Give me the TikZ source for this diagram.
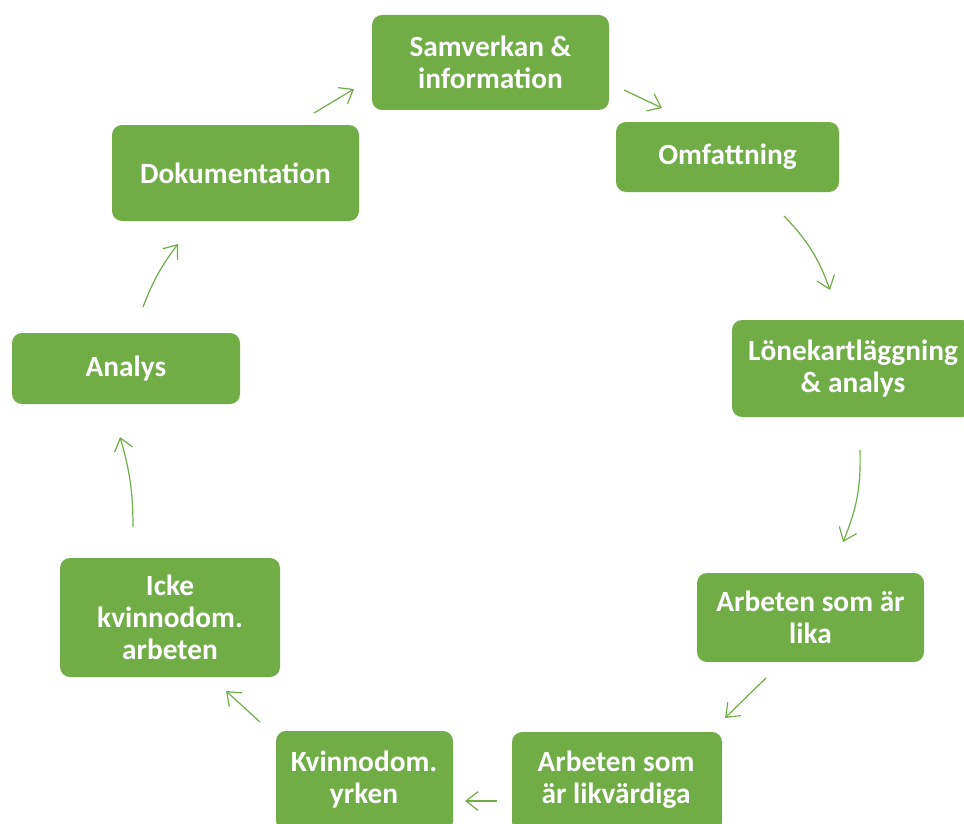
\documentclass[tikz,border=0pt]{standalone}
\usepackage{fontspec}
\setmainfont{Carlito}
\usetikzlibrary{arrows.meta}
\definecolor{grn}{HTML}{70AD47}
\tikzset{
  lbl/.style={text=white, font=\bfseries\fontsize{22}{24}\selectfont, align=center, inner sep=0pt},
  box/.style={lbl, fill=grn, rounded corners=7.5pt},
  conn/.style={draw=grn, line width=0.9pt, -{Straight Barb[length=9pt,width=14pt,line width=0.9pt]}}
}
\begin{document}
\begin{tikzpicture}[x=0.75pt,y=-0.75pt]
\useasboundingbox (0,0) rectangle (964,824);
\clip (0,0) rectangle (964,824);
\node[box, minimum width=177.75pt, minimum height=71.25pt] (samv) at (490.5,62.5) {Samverkan \&\\information};
\node[box, minimum width=167.25pt, minimum height=52.5pt] (omf) at (727.5,157) {Omfattning};
\node[box, minimum width=180pt, minimum height=72.75pt] (lon) at (852,368.5) {};
\node[lbl] at (853,368.5) {Lönekartläggning\\\& analys};
\node[box, minimum width=170.25pt, minimum height=66.75pt] (lika) at (810.5,617.5) {Arbeten som är\\lika};
\node[box, minimum width=157.5pt, minimum height=75pt] (likv) at (617,782) {};
\node[lbl] at (616,780) {Arbeten som\\är likvärdiga};
\node[box, minimum width=132.75pt, minimum height=75pt] (kvin) at (364.5,781) {};
\node[lbl] at (364,780) {Kvinnodom.\\yrken};
\node[box, minimum width=165pt, minimum height=89.25pt] (icke) at (170,617.5) {Icke\\kvinnodom.\\arbeten};
\node[box, minimum width=171pt, minimum height=53.25pt] (anal) at (126,368.5) {Analys};
\node[box, minimum width=185.25pt, minimum height=72pt] (dok) at (235.5,173) {Dokumentation};
% connectors
\coordinate (a1s) at (314,113); \coordinate (a1e) at (354,89);
\coordinate (a2s) at (624,90); \coordinate (a2e) at (662,108);
\coordinate (a3s) at (784,216); \coordinate (a3e) at (830,290);
\coordinate (a4s) at (860,450); \coordinate (a4e) at (843,542);
\coordinate (a5s) at (766,678); \coordinate (a5e) at (725,718);
\coordinate (a6s) at (497,801); \coordinate (a6e) at (465,801);
\coordinate (a7s) at (260,722); \coordinate (a7e) at (226,691);
\coordinate (a8s) at (133,527); \coordinate (a8e) at (120,437);
\coordinate (a9s) at (143,307); \coordinate (a9e) at (178,244);
\draw[conn] (a1s) -- (a1e);
\draw[conn] (a2s) -- (a2e);
\draw[conn] (a3s) to[bend left=12] (a3e);
\draw[conn] (a4s) to[bend left=12] (a4e);
\draw[conn] (a5s) -- (a5e);
\draw[conn] (a6s) -- (a6e);
\draw[conn] (a7s) -- (a7e);
\draw[conn] (a8s) to[bend right=8] (a8e);
\draw[conn] (a9s) to[bend left=8] (a9e);
\end{tikzpicture}
\end{document}
